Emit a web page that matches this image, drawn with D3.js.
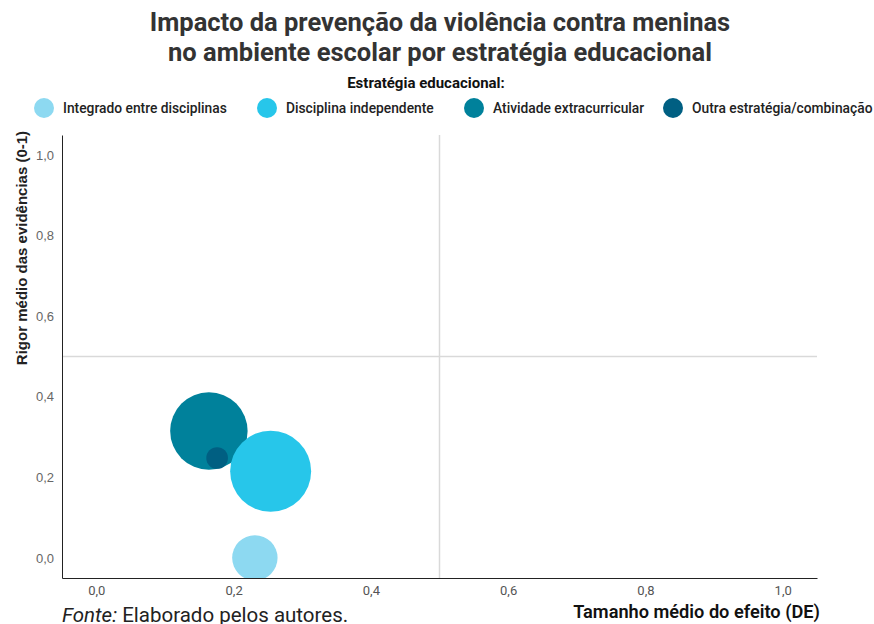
<!DOCTYPE html>
<html>
<head>
<meta charset="utf-8">
<script src="https://cdn.jsdelivr.net/npm/d3@7"></script>
<style>
  body { margin: 0; background: #fff; }
  svg { display: block; }
</style>
</head>
<body>
<div id="chart"></div>
<script>
// data
var categories = ["Integrado entre disciplinas", "Disciplina independente",
                  "Atividade extracurricular", "Outra estratégia/combinação"];
var effectSize = [0.231, 0.254, 0.164, 0.176];   // Tamanho médio do efeito (DE)
var rigor      = [0.0, 0.215, 0.315, 0.248];     // Rigor médio das evidências
var weight     = [4.4, 14, 12.8, 1];             // bubble size
var colors     = ["#8dd9f1", "#27c6ea", "#00819b", "#005f82"];
var xTicks = [0, 0.2, 0.4, 0.6, 0.8, 1.0];
var yTicks = [0, 0.2, 0.4, 0.6, 0.8, 1.0];
var drawOrder = [2, 3, 1, 0];

var width = 874, height = 624;
var margin = {top: 135, right: 57, bottom: 46, left: 62};
var legendX = [44, 267, 474, 673];   // legend swatch centres

var svg = d3.select("#chart").append("svg")
    .attr("width", width)
    .attr("height", height);

var ptBR = d3.formatLocale({decimal: ",", thousands: ".", grouping: [3], currency: ["R$", ""]});
var fmt = ptBR.format(".1f");

var x = d3.scaleLinear()
    .domain([-0.05, 1.05])
    .range([margin.left, width - margin.right]);

var y = d3.scaleLinear()
    .domain([-0.05, 1.05])
    .range([height - margin.bottom, margin.top]);

var r = d3.scaleSqrt()
    .domain([0, d3.max(weight)])
    .range([0, 40.5]);

// title
var title = svg.append("text")
    .attr("text-anchor", "middle")
    .attr("font-family", "Roboto")
    .attr("font-weight", 700)
    .attr("font-size", 25.5)
    .attr("fill", "#333");
title.append("tspan").attr("x", 440).attr("y", 31).text("Impacto da prevenção da violência contra meninas");
title.append("tspan").attr("x", 440).attr("y", 61).text("no ambiente escolar por estratégia educacional");

// legend
svg.append("text")
    .attr("x", 426).attr("y", 88)
    .attr("text-anchor", "middle")
    .attr("font-family", "Roboto")
    .attr("font-weight", 700)
    .attr("font-size", 15)
    .attr("fill", "#111")
    .text("Estratégia educacional:");

var legend = svg.append("g").attr("class", "legend");
categories.forEach(function(c, i) {
  var g = legend.append("g");
  g.append("circle")
      .attr("cx", legendX[i]).attr("cy", 108).attr("r", 10)
      .attr("fill", colors[i]);
  g.append("text")
      .attr("x", legendX[i] + 19).attr("y", 113)
      .attr("font-family", "Roboto")
      .attr("font-weight", 500)
      .attr("font-size", 13.8)
      .attr("fill", "#222")
      .text(c);
});

// reference lines
svg.append("line")
    .attr("x1", x(0.5)).attr("x2", x(0.5))
    .attr("y1", margin.top).attr("y2", height - margin.bottom)
    .attr("stroke", "#d9d9d9").attr("stroke-width", 1.5);
svg.append("line")
    .attr("x1", margin.left).attr("x2", width - margin.right)
    .attr("y1", y(0.5)).attr("y2", y(0.5))
    .attr("stroke", "#d9d9d9").attr("stroke-width", 1.5);

// clip for the bubbles
svg.append("clipPath").attr("id", "plot-clip")
  .append("rect")
    .attr("x", margin.left).attr("y", margin.top)
    .attr("width", width - margin.left - margin.right)
    .attr("height", height - margin.top - margin.bottom);

svg.append("g")
    .attr("clip-path", "url(#plot-clip)")
  .selectAll("circle")
    .data(drawOrder)
  .enter().append("circle")
    .attr("cx", function(i) { return x(effectSize[i]); })
    .attr("cy", function(i) { return y(rigor[i]); })
    .attr("r", function(i) { return r(weight[i]); })
    .attr("fill", function(i) { return colors[i]; });

// axes
var xAxis = d3.axisBottom(x).tickValues(xTicks).tickFormat(fmt).tickSize(0).tickPadding(8);
var yAxis = d3.axisLeft(y).tickValues(yTicks).tickFormat(fmt).tickSize(0).tickPadding(8);

var gx = svg.append("g")
    .attr("transform", "translate(0," + (height - margin.bottom) + ")")
    .call(xAxis);
gx.select(".domain").attr("stroke", "#222");
gx.selectAll("text")
    .attr("font-family", "Roboto")
    .attr("font-size", 13)
    .attr("fill", "#555");

var gy = svg.append("g")
    .attr("transform", "translate(" + margin.left + ",0)")
    .call(yAxis);
gy.select(".domain").attr("stroke", "#222");
gy.selectAll("text")
    .attr("font-family", "Liberation Sans")
    .attr("font-size", 13)
    .attr("fill", "#666");

// axis titles
svg.append("text")
    .attr("transform", "translate(27,248) rotate(-90)")
    .attr("text-anchor", "middle")
    .attr("font-family", "Liberation Sans")
    .attr("font-weight", 700)
    .attr("font-size", 15)
    .attr("fill", "#222")
    .text("Rigor médio das evidências (0-1)");

svg.append("text")
    .attr("x", 820).attr("y", 618)
    .attr("text-anchor", "end")
    .attr("font-family", "Roboto")
    .attr("font-weight", 600)
    .attr("font-size", 18.2)
    .attr("fill", "#111")
    .text("Tamanho médio do efeito (DE)");

// source
var src = svg.append("text")
    .attr("x", 62).attr("y", 622)
    .attr("font-family", "Roboto")
    .attr("font-size", 20.5)
    .attr("fill", "#222");
src.append("tspan").attr("font-style", "italic").text("Fonte:");
src.append("tspan").text(" Elaborado pelos autores.");
</script>
</body>
</html>
